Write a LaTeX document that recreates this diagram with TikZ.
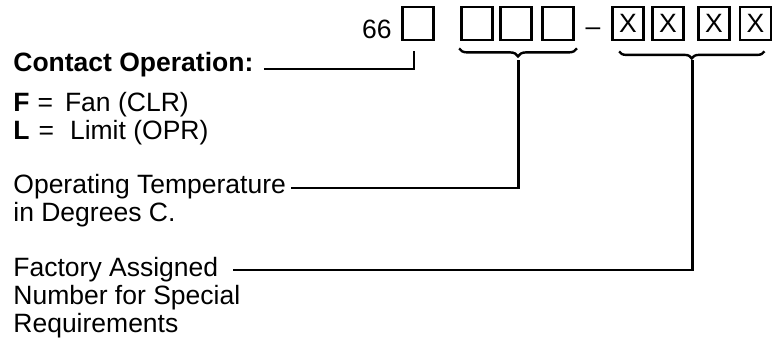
\documentclass[tikz,border=0pt]{standalone}
\usepackage{fontspec}
\setmainfont{Liberation Sans}
\usetikzlibrary{positioning,calc,decorations.pathreplacing}

\newcommand{\descfont}{\fontsize{13.25pt}{14pt}\selectfont}

\begin{document}
\begin{tikzpicture}[
    x=0.5pt, y=-0.5pt,
    numbox/.style={draw, line width=1.4pt, minimum width=15.5pt, minimum height=16.5pt, inner sep=0pt, font=\descfont},
    desctext/.style={anchor=base west, inner sep=0pt, align=left, font=\descfont},
    leader/.style={line width=1.2pt},
    codebrace/.style={decorate, decoration={brace, amplitude=4pt}, line width=1.2pt},
]
    \useasboundingbox (0,0) rectangle (779,340);

    % Part number: prefix and boxes
    \node[desctext, anchor=base east] (prefix) at (392,39) {66};
    \node[numbox] (op) at (418,23.5) {};
    \node[numbox] (t1) at (477,23.5) {};
    \node[numbox] (t2) at (516,23.5) {};
    \node[numbox] (t3) at (558,23.5) {};
    \node[desctext, anchor=base] (dash) at (593,36) {--};
    \node[numbox] (f1) at (628,23.5) {X};
    \node[numbox] (f2) at (668,23.5) {X};
    \node[numbox] (f3) at (714,23.5) {X};
    \node[numbox] (f4) at (755.5,23.5) {X};

    % Braces under the digit groups
    \draw[codebrace] ($(t3.south east)+(2,7)$) -- ($(t1.south west)+(-1,7)$);
    \draw[codebrace, decoration={amplitude=3.5pt}] ($(f4.south east)+(-8,10)$) -- ($(f1.south west)+(8,10)$);
    \coordinate (tip1) at (518.5,60);
    \coordinate (tip2) at (692.5,60);

    % Contact operation (multi-line nodes sit on their last baseline)
    \node[desctext] (contact) at (13,72) {\textbf{Contact Operation:}};
    \node[desctext] (ops) at (13,140) {\textbf{F}\hspace{4pt}=\hspace{6pt}Fan (CLR)\\
        \textbf{L}\hspace{4.5pt}=\hspace{8pt}Limit (OPR)};
    \draw[leader] ($(contact.base east)+(10,-3)$) -| ($(op.south)+(-4,10)$);

    % Operating temperature
    \node[desctext] (temp) at (13,222) {Operating Temperature\\in Degrees C.};
    \coordinate (temp end) at (291,188);
    \draw[leader] (temp end) -| (tip1);

    % Factory assigned number
    \node[desctext] (factory) at (13,333) {Factory Assigned\\Number for Special\\Requirements};
    \coordinate (factory end) at (233,270);
    \draw[leader] (factory end) -| (tip2);
\end{tikzpicture}
\end{document}
